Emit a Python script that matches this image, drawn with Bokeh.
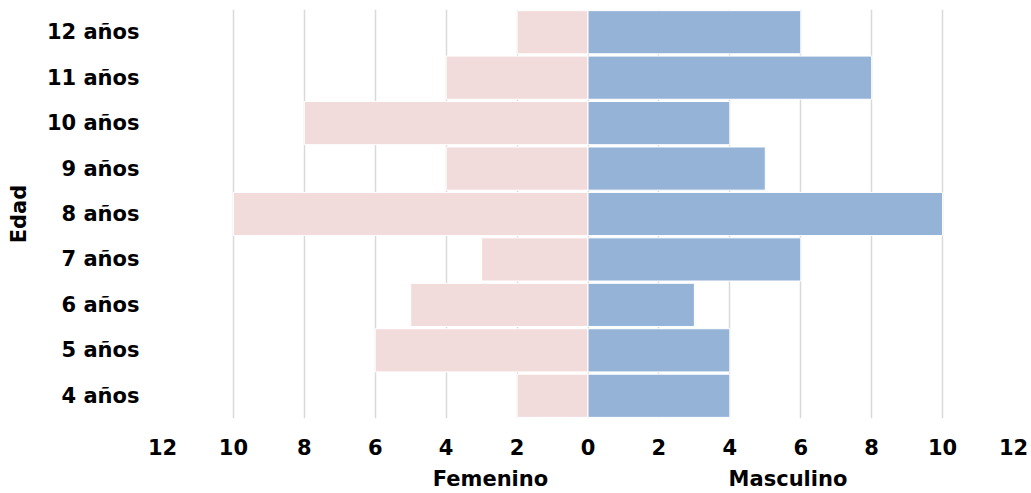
from bokeh.plotting import figure
from bokeh.models import ColumnDataSource, FixedTicker, CustomJSTickFormatter, FactorRange, Range1d, LinearAxis
from bokeh.embed import file_html
from bokeh.resources import INLINE

ages = ["4 años", "5 años", "6 años", "7 años", "8 años", "9 años", "10 años", "11 años", "12 años"]
femenino = [2, 6, 5, 3, 10, 4, 8, 4, 2]
masculino = [4, 4, 3, 6, 10, 5, 4, 8, 6]
x_ticks = [-12, -10, -8, -6, -4, -2, 0, 2, 4, 6, 8, 10, 12]
side_titles = ["Femenino", "Masculino"]
side_title_pos = [-2.75, 5.64]

source = ColumnDataSource(dict(
    age=ages,
    fem_left=[-v for v in femenino],
    masc_right=masculino,
    zero=[0] * len(ages),
))

FONT = "DejaVu Sans"
FS = "21px"

p = figure(
    width=1031, height=493,
    y_range=FactorRange(*ages, range_padding=0),
    x_range=Range1d(-12, 12),
    output_backend="svg", toolbar_location=None,
    min_border_left=162, min_border_right=18, min_border_top=9, min_border_bottom=75,
)

p.hbar(y="age", left="fem_left", right="zero", height=0.95, source=source,
       fill_color="#f2dcdb", line_color="white", line_width=1)
p.hbar(y="age", left="zero", right="masc_right", height=0.95, source=source,
       fill_color="#95b3d7", line_color="white", line_width=1)

p.outline_line_color = None
p.ygrid.grid_line_color = None
p.xgrid.grid_line_color = "#d9d9d9"
p.xgrid.grid_line_width = 1.5
p.xgrid.level = "underlay"

p.xaxis.ticker = FixedTicker(ticks=x_ticks)
p.xaxis.formatter = CustomJSTickFormatter(code="return Math.abs(tick).toString();")

title_axis = LinearAxis(ticker=FixedTicker(ticks=side_title_pos),
                        major_label_overrides={pos: t for pos, t in zip(side_title_pos, side_titles)})
p.add_layout(title_axis, "below")

for ax in (p.xaxis[0], title_axis, p.yaxis[0]):
    ax.axis_line_color = None
    ax.major_tick_line_color = None
    ax.minor_tick_line_color = None
    ax.major_label_text_font = FONT
    ax.major_label_text_font_style = "bold"
    ax.major_label_text_font_size = FS
    ax.major_label_text_color = "black"

p.xaxis[0].major_label_standoff = 14
title_axis.major_label_standoff = 3
p.yaxis.major_label_standoff = 17
p.yaxis.axis_label = "Edad"
p.yaxis.axis_label_text_font = FONT
p.yaxis.axis_label_text_font_style = "bold"
p.yaxis.axis_label_text_font_size = FS
p.yaxis.axis_label_text_color = "black"
p.yaxis.axis_label_standoff = 13

open("out.html", "w").write(file_html(p, INLINE))
